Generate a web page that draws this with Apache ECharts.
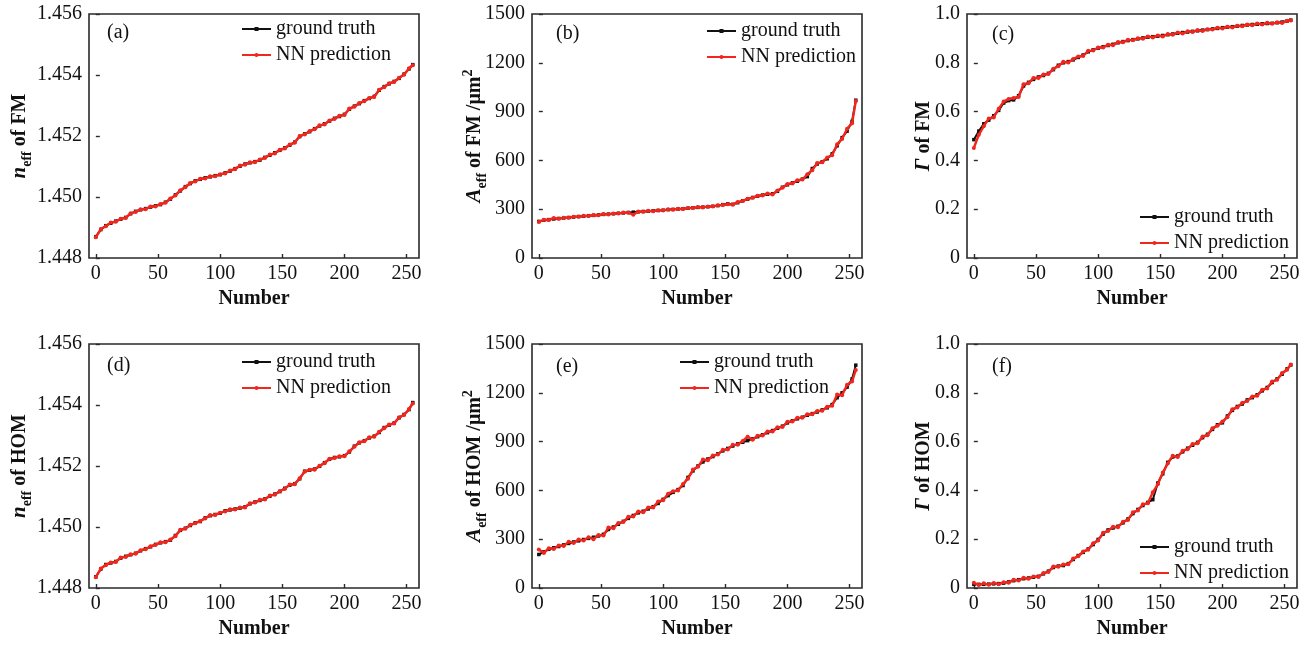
<!DOCTYPE html>
<html>
<head>
<meta charset="utf-8">
<script src="https://cdn.jsdelivr.net/npm/echarts@6/dist/echarts.min.js"></script>
<style>
  html, body { margin: 0; padding: 0; background: #fff; }
  #chart { width: 1314px; height: 645px; }
</style>
</head>
<body>
<div id="chart"></div>
<script>
// Sample numbers (x values) shared by every panel
const numbers = [
  0, 4, 8, 12, 16, 20, 24, 28, 32, 36, 40, 44, 48,
  52, 56, 60, 64, 68, 72, 76, 80, 84, 88, 92, 96, 100,
  104, 108, 112, 116, 120, 124, 128, 132, 136, 140, 144, 148, 152,
  156, 160, 164, 168, 172, 176, 180, 184, 188, 192, 196, 200, 204,
  208, 212, 216, 220, 224, 228, 232, 236, 240, 244, 248, 252, 255
];
const xTicks = [0, 50, 100, 150, 200, 250];

// (a) effective index of the fundamental mode
const neffFmTruth = [
  1.44870, 1.44893, 1.44906, 1.44914, 1.44921, 1.44927, 1.44933, 1.44945, 1.44953, 1.44958, 1.44962, 1.44967, 1.44971,
  1.44975, 1.44983, 1.44993, 1.45007, 1.45020, 1.45034, 1.45044, 1.45053, 1.45058, 1.45063, 1.45066, 1.45070, 1.45073,
  1.45079, 1.45085, 1.45093, 1.45101, 1.45108, 1.45112, 1.45116, 1.45121, 1.45130, 1.45137, 1.45145, 1.45153, 1.45161,
  1.45170, 1.45180, 1.45198, 1.45207, 1.45214, 1.45224, 1.45233, 1.45240, 1.45249, 1.45258, 1.45264, 1.45271, 1.45288,
  1.45298, 1.45306, 1.45316, 1.45323, 1.45330, 1.45350, 1.45362, 1.45371, 1.45379, 1.45389, 1.45403, 1.45420, 1.45434
];
const neffFmPred = [
  1.44868, 1.44895, 1.44904, 1.44916, 1.44919, 1.44929, 1.44931, 1.44947, 1.44951, 1.44960, 1.44960, 1.44969, 1.44969,
  1.44977, 1.44981, 1.44995, 1.45005, 1.45022, 1.45032, 1.45046, 1.45051, 1.45060, 1.45061, 1.45068, 1.45068, 1.45075,
  1.45077, 1.45087, 1.45091, 1.45103, 1.45106, 1.45114, 1.45114, 1.45123, 1.45128, 1.45139, 1.45143, 1.45155, 1.45159,
  1.45172, 1.45178, 1.45200, 1.45205, 1.45216, 1.45222, 1.45235, 1.45238, 1.45251, 1.45256, 1.45266, 1.45269, 1.45290,
  1.45296, 1.45308, 1.45314, 1.45325, 1.45328, 1.45352, 1.45360, 1.45373, 1.45377, 1.45391, 1.45401, 1.45422, 1.45432
];

// (b) effective area of the fundamental mode, um^2
const aeffFmTruth = [
  225, 232, 236, 240, 243, 246, 249, 252, 255, 257, 260, 262, 265,
  268, 270, 272, 275, 277, 280, 282, 284, 286, 288, 290, 292, 294,
  297, 299, 301, 303, 306, 309, 311, 313, 315, 318, 322, 328, 333,
  330, 340, 352, 362, 372, 380, 387, 392, 395, 410, 435, 450, 462,
  472, 485, 500, 550, 578, 592, 610, 640, 690, 740, 780, 840, 970
];
const aeffFmPred = [
  222, 235, 234, 246, 241, 248, 247, 254, 253, 259, 258, 264, 263,
  270, 268, 274, 273, 279, 278, 266, 286, 284, 290, 288, 294, 292,
  299, 297, 303, 301, 308, 307, 313, 311, 317, 316, 325, 326, 330,
  328, 345, 350, 365, 370, 383, 384, 396, 390, 415, 432, 455, 458,
  478, 482, 515, 540, 584, 588, 618, 632, 700, 732, 795, 828, 965
];

// (c) confinement factor of the fundamental mode
const gammaFmTruth = [
  0.485, 0.520, 0.550, 0.565, 0.583, 0.605, 0.635, 0.645, 0.648, 0.665, 0.705, 0.720, 0.732,
  0.742, 0.748, 0.757, 0.772, 0.790, 0.800, 0.805, 0.812, 0.822, 0.832, 0.845, 0.853, 0.860,
  0.866, 0.871, 0.876, 0.882, 0.887, 0.891, 0.895, 0.898, 0.902, 0.905, 0.907, 0.909, 0.912,
  0.915, 0.918, 0.921, 0.924, 0.926, 0.929, 0.931, 0.934, 0.936, 0.939, 0.941, 0.944, 0.946,
  0.948, 0.950, 0.953, 0.955, 0.957, 0.958, 0.960, 0.961, 0.962, 0.964, 0.967, 0.971, 0.975
];
const gammaFmPred = [
  0.451, 0.505, 0.540, 0.572, 0.576, 0.612, 0.641, 0.652, 0.656, 0.660, 0.712, 0.716, 0.738,
  0.738, 0.752, 0.754, 0.776, 0.786, 0.804, 0.801, 0.816, 0.826, 0.828, 0.849, 0.850, 0.863,
  0.863, 0.874, 0.872, 0.885, 0.884, 0.894, 0.892, 0.901, 0.899, 0.908, 0.904, 0.912, 0.908,
  0.918, 0.915, 0.924, 0.920, 0.929, 0.926, 0.934, 0.930, 0.938, 0.936, 0.944, 0.941, 0.948,
  0.945, 0.952, 0.950, 0.957, 0.954, 0.961, 0.957, 0.964, 0.960, 0.966, 0.963, 0.972, 0.973
];

// (d) effective index of the higher-order mode
const neffHomTruth = [
  1.44837, 1.44862, 1.44877, 1.44882, 1.44887, 1.44898, 1.44904, 1.44909, 1.44914, 1.44922, 1.44929, 1.44935, 1.44943,
  1.44948, 1.44952, 1.44957, 1.44972, 1.44989, 1.44996, 1.45005, 1.45014, 1.45018, 1.45030, 1.45037, 1.45041, 1.45045,
  1.45053, 1.45056, 1.45059, 1.45062, 1.45066, 1.45076, 1.45082, 1.45087, 1.45092, 1.45101, 1.45108, 1.45116, 1.45127,
  1.45137, 1.45142, 1.45158, 1.45183, 1.45186, 1.45190, 1.45199, 1.45211, 1.45222, 1.45228, 1.45230, 1.45234, 1.45246,
  1.45265, 1.45276, 1.45283, 1.45292, 1.45298, 1.45310, 1.45326, 1.45334, 1.45341, 1.45358, 1.45369, 1.45385, 1.45408
];
const neffHomPred = [
  1.44835, 1.44864, 1.44875, 1.44884, 1.44885, 1.44900, 1.44902, 1.44911, 1.44912, 1.44924, 1.44927, 1.44937, 1.44941,
  1.44950, 1.44950, 1.44959, 1.44970, 1.44991, 1.44994, 1.45007, 1.45012, 1.45020, 1.45028, 1.45039, 1.45039, 1.45047,
  1.45051, 1.45058, 1.45057, 1.45064, 1.45064, 1.45078, 1.45080, 1.45089, 1.45090, 1.45103, 1.45106, 1.45118, 1.45125,
  1.45139, 1.45140, 1.45160, 1.45181, 1.45188, 1.45188, 1.45201, 1.45209, 1.45224, 1.45226, 1.45232, 1.45232, 1.45248,
  1.45263, 1.45278, 1.45281, 1.45294, 1.45296, 1.45312, 1.45324, 1.45336, 1.45339, 1.45360, 1.45367, 1.45387, 1.45405
];

// (e) effective area of the higher-order mode, um^2
const aeffHomTruth = [
  206, 222, 238, 247, 255, 265, 274, 283, 290, 298, 305, 312, 320,
  330, 360, 375, 392, 410, 428, 446, 462, 472, 486, 500, 520, 545,
  568, 588, 605, 630, 680, 720, 750, 775, 793, 808, 825, 843, 858,
  873, 886, 896, 906, 917, 930, 942, 955, 968, 982, 995, 1015, 1028,
  1040, 1050, 1062, 1072, 1082, 1095, 1108, 1128, 1170, 1200, 1235, 1285, 1370
];
const aeffHomPred = [
  237, 215, 245, 240, 262, 258, 285, 276, 298, 292, 312, 300, 326,
  322, 372, 368, 400, 405, 438, 440, 470, 465, 495, 495, 532, 540,
  580, 595, 600, 640, 672, 728, 745, 790, 785, 815, 820, 850, 852,
  880, 880, 904, 930, 912, 936, 938, 962, 962, 988, 990, 1022, 1024,
  1046, 1046, 1068, 1068, 1088, 1090, 1114, 1120, 1190, 1185, 1250, 1270, 1340
];

// (f) confinement factor of the higher-order mode
const gammaHomTruth = [
  0.015, 0.015, 0.015, 0.016, 0.017, 0.018, 0.020, 0.025, 0.030, 0.034, 0.038, 0.041, 0.044,
  0.048, 0.058, 0.069, 0.084, 0.090, 0.092, 0.100, 0.117, 0.133, 0.146, 0.160, 0.178, 0.199,
  0.221, 0.238, 0.246, 0.253, 0.267, 0.283, 0.305, 0.322, 0.338, 0.351, 0.362, 0.430, 0.468,
  0.515, 0.537, 0.541, 0.558, 0.573, 0.585, 0.597, 0.616, 0.630, 0.650, 0.669, 0.677, 0.705,
  0.728, 0.744, 0.754, 0.771, 0.780, 0.792, 0.808, 0.822, 0.842, 0.857, 0.876, 0.898, 0.914
];
const gammaHomPred = [
  0.022, 0.012, 0.019, 0.013, 0.021, 0.015, 0.024, 0.022, 0.034, 0.031, 0.042, 0.038, 0.047,
  0.045, 0.061, 0.066, 0.088, 0.087, 0.096, 0.097, 0.121, 0.130, 0.150, 0.157, 0.183, 0.195,
  0.226, 0.234, 0.251, 0.249, 0.272, 0.279, 0.310, 0.318, 0.343, 0.347, 0.392, 0.425, 0.473,
  0.510, 0.542, 0.537, 0.563, 0.569, 0.590, 0.593, 0.621, 0.626, 0.655, 0.665, 0.682, 0.700,
  0.733, 0.740, 0.759, 0.766, 0.785, 0.788, 0.813, 0.818, 0.846, 0.853, 0.881, 0.894, 0.916
];

const seriesNames = ['ground truth', 'NN prediction'];
const FONT = '"Liberation Serif", "Times New Roman", serif';
const INK = '#111';
const RED = '#f2261c';

const fmtIndex = v => v.toFixed(3);
const fmtArea = v => String(Math.round(v));
const fmtGamma = v => (Math.abs(v) < 1e-9 ? '0' : v.toFixed(1));

const nameRich = {
  i: { fontFamily: FONT, fontSize: 21, fontStyle: 'italic', fontWeight: 'bold', color: INK, lineHeight: 28 },
  t: { fontFamily: FONT, fontSize: 20, fontWeight: 'bold', color: INK, lineHeight: 28 },
  s: { fontFamily: FONT, fontSize: 14, fontWeight: 'bold', color: INK, lineHeight: 14, verticalAlign: 'bottom' },
  p: { fontFamily: FONT, fontSize: 14, fontWeight: 'bold', color: INK, lineHeight: 14, verticalAlign: 'top' }
};

// Panel layout: plot rectangle, axis range, titles, legend place
const panels = [
  { tag: '(a)', left: 89, top: 14, truth: neffFmTruth, pred: neffFmPred,
    yMin: 1.448, yMax: 1.456, yStep: 0.002, fmt: fmtIndex,
    yName: '{i|n}{s|eff}{t| of FM}', nameGap: 55, legend: [241, 16], tagXY: [107, 33] },
  { tag: '(b)', left: 532, top: 14, truth: aeffFmTruth, pred: aeffFmPred,
    yMin: 0, yMax: 1500, yStep: 300, fmt: fmtArea,
    yName: '{i|A}{s|eff}{t| of FM /μm}{p|2}', nameGap: 43, legend: [706, 18], tagXY: [556, 34] },
  { tag: '(c)', left: 967, top: 14, truth: gammaFmTruth, pred: gammaFmPred,
    yMin: 0, yMax: 1, yStep: 0.2, fmt: fmtGamma,
    yName: '{i|Γ}{t| of FM}', nameGap: 29, legend: [1139, 204], tagXY: [992, 35] },
  { tag: '(d)', left: 89, top: 344, truth: neffHomTruth, pred: neffHomPred,
    yMin: 1.448, yMax: 1.456, yStep: 0.002, fmt: fmtIndex,
    yName: '{i|n}{s|eff}{t| of HOM}', nameGap: 55, legend: [241, 349], tagXY: [107, 366] },
  { tag: '(e)', left: 532, top: 344, truth: aeffHomTruth, pred: aeffHomPred,
    yMin: 0, yMax: 1500, yStep: 300, fmt: fmtArea,
    yName: '{i|A}{s|eff}{t| of HOM /μm}{p|2}', nameGap: 43, legend: [679, 349], tagXY: [556, 367] },
  { tag: '(f)', left: 967, top: 344, truth: gammaHomTruth, pred: gammaHomPred,
    yMin: 0, yMax: 1, yStep: 0.2, fmt: fmtGamma,
    yName: '{i|Γ}{t| of HOM}', nameGap: 29, legend: [1139, 534], tagXY: [992, 367] }
];

const PLOT_W = 330, PLOT_H = 244;

const grid = [], xAxis = [], yAxis = [], series = [], legend = [], graphic = [];

panels.forEach((p, k) => {
  grid.push({
    left: p.left, top: p.top, width: PLOT_W, height: PLOT_H,
    show: true, borderColor: '#2a2a2a', borderWidth: 1.6, backgroundColor: 'transparent'
  });
  xAxis.push({
    type: 'value', gridIndex: k, min: -5.5, max: 260,
    name: 'Number', nameLocation: 'middle', nameGap: 31, nameMoveOverlap: false,
    nameTextStyle: { fontFamily: FONT, fontSize: 20, fontWeight: 'bold', color: INK },
    axisLine: { show: false },
    axisTick: { show: true, inside: true, length: 4, customValues: xTicks,
      lineStyle: { color: '#2a2a2a', width: 1.4 } },
    axisLabel: { customValues: xTicks, margin: 6, fontFamily: FONT, fontSize: 20, color: INK },
    splitLine: { show: false }
  });
  yAxis.push({
    type: 'value', gridIndex: k, min: p.yMin, max: p.yMax, interval: p.yStep,
    name: p.yName, nameLocation: 'middle', nameRotate: 90, nameGap: p.nameGap,
    nameMoveOverlap: false,
    nameTextStyle: { rich: nameRich },
    axisLine: { show: false },
    axisTick: { show: true, inside: true, length: 4, lineStyle: { color: '#2a2a2a', width: 1.4 } },
    axisLabel: { margin: 7, fontFamily: FONT, fontSize: 20, color: INK, formatter: p.fmt },
    splitLine: { show: false }
  });
  series.push({
    type: 'line', name: seriesNames[0], xAxisIndex: k, yAxisIndex: k,
    data: numbers.map((n, j) => [n, p.truth[j]]),
    symbol: 'rect', symbolSize: 3.5, showAllSymbol: true,
    lineStyle: { color: INK, width: 2 }, itemStyle: { color: INK },
    z: 2, silent: true
  });
  series.push({
    type: 'line', name: seriesNames[1], xAxisIndex: k, yAxisIndex: k,
    data: numbers.map((n, j) => [n, p.pred[j]]),
    symbol: 'circle', symbolSize: 4, showAllSymbol: true,
    lineStyle: { color: RED, width: 2.4 }, itemStyle: { color: RED },
    z: 3, silent: true
  });
  legend.push({
    orient: 'vertical', left: p.legend[0], top: p.legend[1], padding: 0,
    itemWidth: 29, itemHeight: 5, itemGap: 0, selectedMode: false,
    textStyle: { fontFamily: FONT, fontSize: 20, color: INK, lineHeight: 26 },
    data: seriesNames
  });
  graphic.push({
    type: 'text', x: p.tagXY[0], y: p.tagXY[1],
    style: { text: p.tag, fontFamily: FONT, fontSize: 20, fill: INK, verticalAlign: 'middle' }
  });
});

const chart = echarts.init(document.getElementById('chart'), null, { renderer: 'canvas' });
chart.setOption({
  animation: false,
  backgroundColor: '#fff',
  grid, xAxis, yAxis, series, legend, graphic
});
</script>
</body>
</html>
